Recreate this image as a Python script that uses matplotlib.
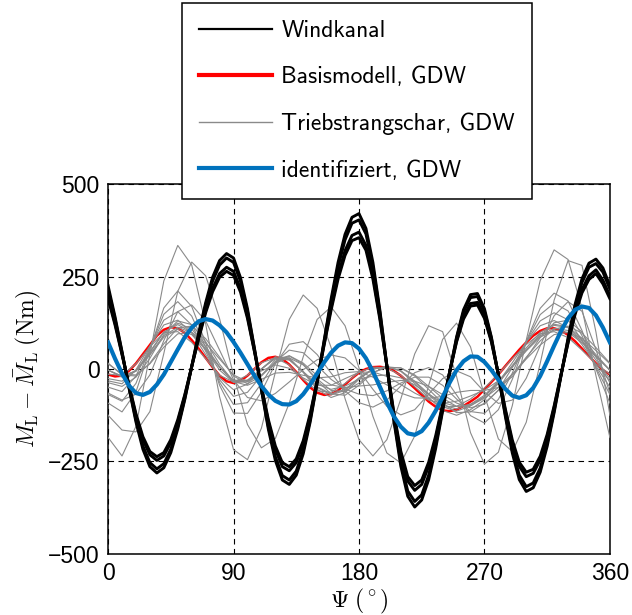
import numpy as np
import matplotlib
matplotlib.use('Agg')
import matplotlib.pyplot as plt
from matplotlib.lines import Line2D

plt.rcParams['mathtext.fontset'] = 'cm'
plt.rcParams['font.family'] = ['Liberation Sans', 'DejaVu Sans']

# Rotor angle grids (deg)
psi5 = np.arange(0, 361, 5)
psi10 = np.arange(0, 361, 10)

# Windkanal (wind tunnel) measurements, 5 deg steps
wk_1 = [225, 141, 47, -51, -143, -217, -264, -281, -267, -226, -162, -83, 7, 97, 179, 248, 293, 312,
        300, 247, 163, 56, -56, -163, -247, -300, -312, -287, -229, -143, -37, 77, 189, 288, 364, 410,
        420, 380, 288, 159, 9, -139, -262, -344, -373, -354, -299, -215, -114, -10, 86, 160, 201, 204,
        163, 86, -17, -128, -227, -299, -331, -321, -279, -209, -118, -17, 83, 174, 244, 286, 297, 273, 225]
wk_2 = [216, 135, 45, -49, -137, -208, -253, -270, -256, -217, -156, -80, 7, 93, 172, 238, 281, 300,
        288, 237, 156, 54, -54, -156, -237, -288, -300, -276, -220, -137, -36, 74, 181, 276, 349, 394,
        403, 365, 276, 153, 9, -133, -252, -330, -358, -340, -287, -206, -109, -10, 83, 154, 193, 196,
        156, 83, -16, -123, -218, -287, -318, -308, -268, -201, -113, -16, 80, 167, 234, 275, 285, 262, 216]
wk_3 = [198, 124, 41, -45, -126, -191, -232, -247, -235, -199, -143, -73, 6, 85, 158, 218, 258, 275,
        264, 217, 143, 49, -49, -143, -217, -264, -275, -253, -202, -126, -33, 68, 166, 253, 320, 361,
        370, 334, 253, 140, 8, -122, -231, -303, -328, -312, -263, -189, -100, -9, 76, 141, 177, 180,
        143, 76, -15, -113, -200, -263, -291, -282, -246, -184, -104, -15, 73, 153, 215, 252, 268, 240, 198]
wk_4 = [190, 119, 39, -43, -121, -183, -223, -237, -226, -191, -137, -70, 6, 82, 152, 209, 248, 264,
        253, 208, 137, 47, -47, -137, -208, -253, -264, -243, -194, -121, -32, 65, 159, 243, 307, 347,
        355, 321, 243, 134, 8, -117, -222, -291, -315, -300, -252, -181, -96, -9, 73, 135, 170, 173,
        137, 73, -14, -108, -192, -252, -279, -271, -236, -177, -100, -14, 70, 147, 206, 242, 258, 230, 190]

# Basismodell, GDW (5 deg steps)
basis = [-15, -20, -18, -5, 15, 40, 65, 90, 106, 113, 110, 98, 78, 55, 30, 5, -18, -33, -38, -32, -18,
         0, 18, 30, 33, 27, 12, -8, -30, -50, -64, -70, -68, -58, -42, -25, -10, 0, 5, 6, 3, -5, -18,
         -35, -52, -70, -88, -102, -112, -114, -110, -100, -88, -75, -55, -35, -15, 8, 30, 52, 72, 90,
         103, 110, 110, 104, 92, 75, 55, 35, 15, -3, -15]

# identifiziert, GDW (5 deg steps)
ident = [72, 28, -12, -45, -65, -70, -62, -42, -15, 19, 53, 86, 112, 129, 135, 131, 118, 99, 73, 44, 13,
         -18, -46, -69, -86, -95, -96, -87, -68, -42, -12, 18, 44, 63, 72, 70, 55, 29, -7, -48, -90, -128,
         -156, -174, -178, -168, -145, -113, -76, -37, -3, 21, 34, 33, 19, -3, -29, -54, -72, -78, -71,
         -51, -19, 21, 63, 103, 137, 160, 169, 165, 145, 112, 72]

# Triebstrangschar, GDW (10 deg steps)
ts_1 = [-185, -235, -155, 39, 238, 334, 281, 122, -75, -218, -245, -160, -9, 134, 200, 164, 58, -80, -191,
        -235, -191, -81, 41, 117, 101, -20, -172, -257, -225, -99, 78, 239, 322, 296, 164, -18, -185]
ts_2 = [-125, -165, -170, -115, 42, 210, 289, 252, 136, -17, -150, -213, -188, -92, 33, 134, 168, 117, 3,
        -128, -227, -254, -181, -44, 80, 124, 60, -71, -189, -223, -144, 15, 186, 293, 280, 100, -125]
ts_3 = [-92, -116, -62, 53, 165, 211, 169, 71, -44, -119, -120, -62, 14, 67, 74, 39, -11, -59, -91, -103,
        -84, -46, -10, 4, -16, -70, -126, -146, -110, -28, 75, 164, 205, 184, 104, 0, -92]
ts_4 = [-49, -61, -19, 60, 132, 155, 119, 48, -29, -74, -63, -18, 25, 36, 16, -18, -43, -50, -46, -43,
        -36, -31, -33, -47, -69, -92, -105, -95, -57, 4, 73, 130, 152, 133, 77, 8, -49]
ts_5 = [-65, -84, -68, -16, 77, 155, 173, 130, 51, -29, -77, -86, -66, -35, -2, 25, 38, 30, -4, -55,
        -101, -124, -110, -68, -26, -5, -21, -62, -93, -84, -25, 63, 144, 182, 156, 53, -65]
ts_6 = [-37, -47, -22, 29, 93, 130, 120, 74, 13, -34, -44, -28, -11, -9, -17, -24, -21, -10, -7, -22,
        -43, -65, -78, -79, -74, -63, -58, -58, -50, -21, 29, 85, 125, 132, 100, 32, -37]
ts_7 = [-3, -19, -5, 38, 86, 107, 93, 52, 5, -31, -30, 0, 29, 26, -8, -48, -67, -55, -24, 0, 6, -5, -33,
        -67, -97, -108, -95, -71, -33, 8, 49, 86, 105, 99, 71, 33, -3]
ts_8 = [14, -14, -16, 14, 59, 95, 99, 70, 27, -16, -34, -16, 16, 30, 11, -27, -58, -61, -38, -9, 5, 3,
        -16, -47, -79, -101, -99, -79, -50, -14, 27, 65, 93, 99, 83, 50, 14]
ts_9 = [-3, -22, -6, 44, 99, 124, 108, 61, 6, -36, -35, 0, 33, 30, -9, -55, -77, -64, -28, 0, 7, -6, -39,
        -77, -112, -125, -110, -83, -39, 9, 57, 99, 121, 114, 83, 39, -3]
ts_10 = [16, -16, -19, 16, 68, 111, 116, 82, 32, -19, -40, -19, 19, 35, 13, -32, -67, -71, -44, -10, 5,
         3, -19, -55, -92, -118, -116, -92, -58, -16, 32, 76, 108, 116, 97, 58, 16]
ts_11 = [-14, -17, 14, 60, 98, 101, 72, 28, -17, -35, -17, 17, 30, 11, -28, -59, -63, -39, -9, 5, 3, -17,
         -48, -81, -103, -101, -81, -51, -14, 28, 66, 95, 101, 85, 51, 14, -14]
ts_12 = [-3, -20, -5, 40, 90, 113, 98, 55, 5, -33, -32, 0, 30, 27, -8, -50, -70, -58, -25, 0, 6, -5, -35,
         -70, -102, -114, -100, -75, -35, 8, 52, 90, 110, 104, 75, 35, -3]
ts_13 = [-32, -40, -2, 62, 119, 132, 98, 39, -24, -56, -41, 0, 29, 24, -7, -41, -55, -46, -28, -19, -16,
         -24, -43, -68, -91, -101, -96, -75, -36, 17, 73, 117, 131, 112, 66, 12, -32]
ts_14 = [-26, -33, -4, 47, 100, 120, 99, 52, -3, -36, -31, -5, 11, 2, -24, -44, -44, -26, -9, -8, -20,
         -42, -65, -84, -93, -87, -73, -57, -32, 5, 50, 94, 118, 112, 78, 24, -26]
ts_15 = [-69, -87, -39, 57, 148, 182, 143, 59, -36, -96, -91, -39, 20, 51, 44, 9, -28, -54, -68, -72,
         -59, -38, -22, -22, -44, -81, -115, -120, -82, -11, 74, 147, 178, 157, 90, 4, -69]

windkanal = [wk_1, wk_2, wk_3, wk_4]
schar = [ts_1, ts_2, ts_3, ts_4, ts_5, ts_6, ts_7, ts_8, ts_9, ts_10, ts_11, ts_12, ts_13, ts_14, ts_15]

labels = ['Windkanal', 'Basismodell, GDW', 'Triebstrangschar, GDW', 'identifiziert, GDW']
col_black = 'black'
col_red = '#ff0000'
col_gray = '#8a8a8a'
col_blue = '#0072bd'

fig = plt.figure(figsize=(6.32, 6.15), dpi=100)
ax = fig.add_axes([0.171, 0.0992, 0.794, 0.6016])

ax.plot(psi5, basis, color=col_red, lw=1.8, zorder=2)
for ts in schar:
    ax.plot(psi10, ts, color=col_gray, lw=0.8, zorder=3)
for wk in windkanal:
    ax.plot(psi5, wk, color=col_black, lw=2.1, zorder=4)
ax.plot(psi5, ident, color=col_blue, lw=3.0, zorder=5)

ax.set_xlim(0, 360)
ax.set_ylim(-500, 500)
ax.set_xticks([0, 90, 180, 270, 360])
ax.set_yticks([-500, -250, 0, 250, 500])
ax.set_yticklabels(['\u2212500', '\u2212250', '0', '250', '500'])
ax.tick_params(labelsize=16.5, direction='in', length=0, pad=6)
ax.grid(True, color='black', linestyle=(0, (5, 4)), linewidth=0.8)
ax.set_axisbelow(True)
for sp in ax.spines.values():
    sp.set_linewidth(1.1)

ax.set_xlabel(r'$\Psi\;(^\circ)$', fontsize=17, labelpad=1)
ax.set_ylabel(r'$M_\mathrm{L}-\bar{M}_\mathrm{L}\;(\mathrm{Nm})$', fontsize=17, labelpad=4)

# Legend handles
handles = [Line2D([], [], color=col_black, lw=1.6),
           Line2D([], [], color=col_red, lw=3.0),
           Line2D([], [], color=col_gray, lw=1.0),
           Line2D([], [], color=col_blue, lw=3.0)]
leg = ax.legend(handles, labels, loc='upper left', bbox_to_anchor=(0.288, 0.995),
                bbox_transform=fig.transFigure, prop={'family': 'cmss10', 'size': 17},
                frameon=True, fancybox=False, edgecolor='black', framealpha=1,
                handlelength=3.07, handletextpad=0.42, labelspacing=1.03, borderpad=0.72,
                borderaxespad=0)
leg.get_frame().set_linewidth(1.1)
leg.set_zorder(10)

fig.savefig('out.png', dpi=100)
